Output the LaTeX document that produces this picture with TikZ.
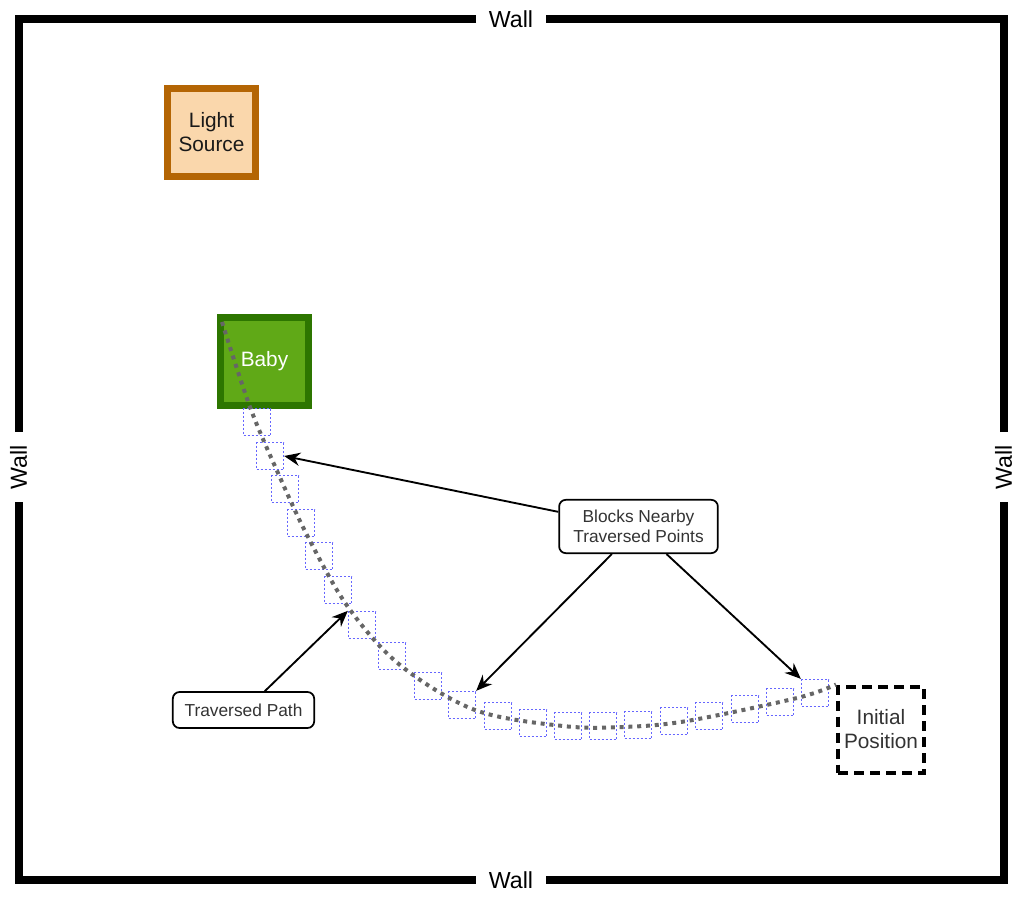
\documentclass[tikz,border=0pt]{standalone}
\usepackage{fontspec}
\setmainfont{Liberation Sans}
\usetikzlibrary{arrows.meta}
\definecolor{babyfill}{HTML}{60A917}
\definecolor{babyline}{HTML}{2D7600}
\definecolor{lightfill}{HTML}{FAD7AC}
\definecolor{lightline}{HTML}{B46504}
\definecolor{blockblue}{HTML}{6666FF}
\definecolor{pathgray}{HTML}{666666}
\definecolor{textgray}{HTML}{333333}

\begin{document}
\begin{tikzpicture}[x=0.75pt,y=-0.75pt,
  wall/.style={line width=6pt, line join=miter},
  walltext/.style={font=\fontsize{17.4}{20}\selectfont},
  thing/.style={minimum size=66pt, inner sep=0pt, line width=5.25pt, align=center,
    font=\fontsize{15.6}{18}\selectfont},
  blockbox/.style={draw=blockblue, line width=1pt, dash pattern=on 1.5pt off 1.5pt,
    minimum size=20.25pt, inner sep=0pt},
  callout/.style={draw, rounded corners=5pt, line width=1.3pt, align=center, inner sep=0pt,
    text=textgray, font=\fontsize{13}{15}\selectfont},
  callarrow/.style={-{Stealth[length=12pt,width=10pt]}, line width=1.4pt},
  trav/.style={draw=pathgray, line width=3pt, dash pattern=on 3pt off 3.6pt}]
\useasboundingbox (0,0) rectangle (1024,899);

% walls
\draw [wall] (476,19) -- (18.5,19) -- (18.5,432);
\draw [wall] (18.5,502) -- (18.5,880) -- (476,880);
\draw [wall] (546,880) -- (1003.5,880) -- (1003.5,502);
\draw [wall] (1003.5,432) -- (1003.5,19) -- (546,19);
\node [walltext] (wallN) at (511,19) {Wall};
\node [walltext] (wallS) at (511,880) {Wall};
\node [walltext, rotate=90] (wallW) at (18.5,467) {Wall};
\node [walltext, rotate=90] (wallE) at (1003.5,467) {Wall};

% objects
\node [thing, draw=lightline, fill=lightfill, text=black!90] (light) at (211.5,132.5) {Light\\Source};
\node [thing, draw=babyline, fill=babyfill, text=white] (baby) at (264.5,361.5) {\raisebox{-2pt}{Baby}};
\node [thing, draw, line width=3pt, dash pattern=on 7.5pt off 4.5pt, minimum size=64.5pt,
  text=textgray] (init) at (881,729.5) {Initial\\Position};

% blocks along the path
\foreach \px/\py [count=\i] in {257/422, 270/456, 285/489, 301/523, 319/556, 338/590,
  362/625, 392/656, 428/686, 462/705, 498/716, 533/723, 568/726, 603/726, 638/725,
  674/721, 709/716, 745/709, 780/702, 815/693}
  \node [blockbox] (b\i) at (\px,\py) {};

% traversed path
\draw [trav] plot[smooth, tension=0.55] coordinates {(222,322) (250,407) (278,473)
  (308,537) (348,607) (400,665) (475,710) (563,726) (623,727) (687,721) (797,698) (init.north west)};

% callouts
\node [callout, minimum width=119pt, minimum height=40pt] (blk) at (638.5,526.5) {Blocks Nearby\\Traversed Points};
\node [callout, minimum width=106pt, minimum height=27pt] (trp) at (243.5,710) {Traversed Path};
\draw [callarrow] ([yshift=11pt]blk.west) -- (b2.east);
\draw [callarrow] ([xshift=-20pt]blk.south) -- (b10.north east);
\draw [callarrow] ([xshift=21pt]blk.south) -- (b20.north west);
\draw [callarrow] ([xshift=16pt]trp.north) -- (b7.north west);

\end{tikzpicture}
\end{document}
